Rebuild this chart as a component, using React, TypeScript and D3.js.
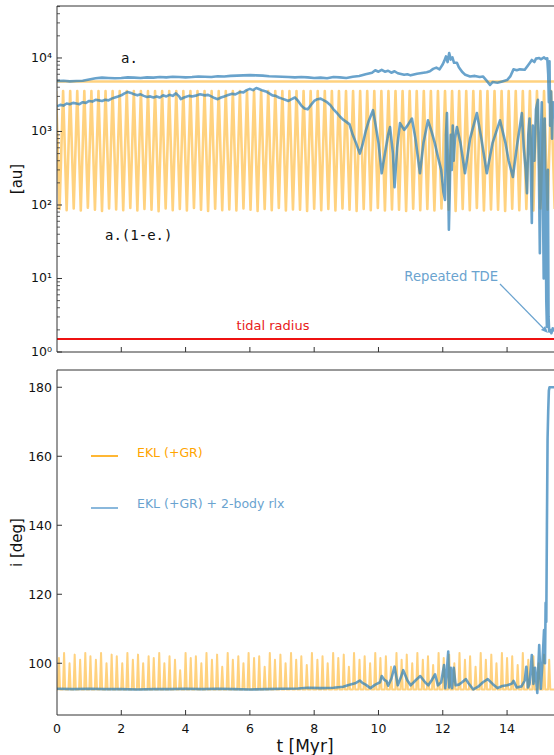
import React from "react";
import * as d3 from "d3";

// ---- data ----------------------------------------------------------------
const T_MAX = 15.46;
const A_EKL = 4780; // semi-major axis, EKL (+GR) run
const PERI_PEAK = 3550; // a(1-e) maxima, EKL (+GR) run
const R_TIDAL = 1.5;

// times (Myr) of pericentre minima, EKL (+GR)
const eklTroughT = [
  0.08, 0.3, 0.52, 0.74, 0.96, 1.18, 1.4, 1.62, 1.84, 2.06, 2.28, 2.5, 2.72, 2.94, 3.16, 3.38, 3.6, 3.82,
  4.04, 4.26, 4.48, 4.7, 4.92, 5.14, 5.36, 5.58, 5.8, 6.02, 6.24, 6.46, 6.68, 6.9, 7.12, 7.34, 7.56, 7.78,
  8.0, 8.22, 8.44, 8.66, 8.88, 9.1, 9.32, 9.54, 9.76, 9.98, 10.2, 10.42, 10.64, 10.86, 11.08, 11.3, 11.52,
  11.74, 11.96, 12.18, 12.4, 12.62, 12.84, 13.06, 13.28, 13.5, 13.72, 13.94, 14.16, 14.38, 14.6, 14.82,
  15.04, 15.26,
];
// a(1-e) at each minimum (au)
const eklTroughV = [
  88, 85, 90, 84, 92, 86, 83, 90, 87, 85, 91, 84, 88, 86, 82, 90, 85, 88, 84, 91, 86, 83, 89, 85, 87, 84, 90,
  86, 83, 88, 85, 91, 84, 87, 86, 83, 89, 85, 88, 84, 90, 86, 83, 88, 85, 91, 84, 87, 86, 83, 89, 85, 88, 84,
  90, 86, 83, 88, 85, 91, 84, 87, 86, 83, 89, 85, 88, 84, 90, 86,
];

// inclination spikes, EKL (+GR)
const eklSpikeT = [
  0.06, 0.22, 0.39, 0.55, 0.72, 0.88, 1.04, 1.21, 1.37, 1.54, 1.7, 1.86, 2.03, 2.19, 2.36, 2.52, 2.68, 2.85,
  3.01, 3.18, 3.34, 3.5, 3.67, 3.83, 4.0, 4.16, 4.32, 4.49, 4.65, 4.82, 4.98, 5.14, 5.31, 5.47, 5.64, 5.8,
  5.96, 6.13, 6.29, 6.46, 6.62, 6.78, 6.95, 7.11, 7.28, 7.44, 7.6, 7.77, 7.93, 8.1, 8.26, 8.42, 8.59, 8.75,
  8.92, 9.08, 9.24, 9.41, 9.57, 9.74, 9.9, 10.06, 10.23, 10.39, 10.56, 10.72, 10.88, 11.05, 11.21, 11.38,
  11.54, 11.7, 11.87, 12.03, 12.2, 12.36, 12.52, 12.69, 12.85, 13.02, 13.18, 13.34, 13.51, 13.67, 13.84, 14.0,
  14.16, 14.33, 14.49, 14.66, 14.82, 14.98, 15.15, 15.31,
];
const eklSpikeI = [
  101.5, 103, 100, 102.5, 101, 103, 102, 101, 103, 100, 102.5, 102, 100, 103, 101, 102.5, 100, 102, 101.5, 103,
  100, 102, 101, 98, 103, 101.5, 102, 100, 103, 101, 102.5, 99, 103, 101, 102, 100, 103, 101.5, 102, 99, 103,
  101, 102.5, 100, 103, 101, 102, 99.5, 103, 101, 102, 100, 103, 101.5, 102.5, 99, 103, 101, 102, 100, 103,
  101.5, 102, 99, 103, 101, 102.5, 100, 103, 101, 102, 99.5, 103, 101.5, 102.5, 100, 103, 101, 102, 99, 103,
  101, 102.5, 100, 103, 101.5, 102, 99.5, 103, 101, 102, 100, 102.5, 101,
];
const EKL_I_BASE = 92.4;

// EKL (+GR) + 2-body relaxation: semi-major axis [t, au]
const rlxA: [number, number][] = [
  [0, 4850], [0.2, 4900], [0.4, 4800], [0.6, 4850], [0.8, 4900], [1.0, 5100], [1.2, 5300], [1.4, 5400],
  [1.6, 5350], [1.8, 5300], [2.0, 5350], [2.2, 5450], [2.4, 5400], [2.6, 5350], [2.8, 5450], [3.0, 5400],
  [3.2, 5500], [3.4, 5450], [3.6, 5550], [3.8, 5500], [4.0, 5450], [4.2, 5500], [4.4, 5600], [4.6, 5550],
  [4.8, 5500], [5.0, 5650], [5.2, 5600], [5.4, 5700], [5.6, 5750], [5.8, 5800], [6.0, 5850], [6.2, 5800],
  [6.4, 5750], [6.6, 5650], [6.8, 5600], [7.0, 5550], [7.2, 5500], [7.4, 5450], [7.6, 5500], [7.8, 5450],
  [8.0, 5350], [8.2, 5400], [8.4, 5300], [8.6, 5500], [8.8, 5450], [9.0, 5350], [9.2, 5550], [9.4, 5700],
  [9.6, 6000], [9.8, 6300], [9.9, 6800], [10.0, 6500], [10.1, 6900], [10.2, 6500], [10.3, 6700],
  [10.4, 6300], [10.5, 6600], [10.6, 6200], [10.8, 5900], [10.9, 6000], [11.0, 5800], [11.2, 6100],
  [11.4, 6300], [11.5, 6400], [11.6, 6600], [11.7, 7100], [11.8, 7400], [11.9, 7000], [12.0, 8200],
  [12.05, 9200], [12.1, 10500], [12.15, 8800], [12.2, 11700], [12.25, 9500], [12.3, 10200], [12.35, 8600],
  [12.44, 8600], [12.5, 7500], [12.6, 6500], [12.7, 5900], [12.85, 5600], [13.0, 5700], [13.15, 5500],
  [13.25, 5600], [13.35, 5000], [13.47, 4300], [13.55, 4700], [13.7, 4600], [13.85, 4800], [14.0, 5000],
  [14.1, 5600], [14.2, 7000], [14.3, 6800], [14.4, 7000], [14.55, 6900], [14.62, 7600], [14.7, 8500],
  [14.77, 9400], [14.85, 8800], [14.9, 9800], [15.0, 10000], [15.05, 9600], [15.1, 9900], [15.15, 10200],
  [15.2, 9700], [15.25, 9900], [15.28, 6000], [15.3, 2500], [15.32, 9000], [15.34, 1200], [15.37, 3500],
  [15.4, 800], [15.43, 2500], [15.46, 1500],
];

// EKL (+GR) + 2-body relaxation: pericentre a(1-e) [t, au]
const rlxPeri: [number, number][] = [
  [0, 2200], [0.1, 2300], [0.2, 2250], [0.3, 2400], [0.4, 2350], [0.5, 2450], [0.6, 2400], [0.7, 2350],
  [0.8, 2500], [0.9, 2450], [1.0, 2600], [1.1, 2550], [1.2, 2700], [1.3, 2650], [1.4, 2600], [1.5, 2700],
  [1.6, 2650], [1.7, 2800], [1.8, 2900], [1.9, 3000], [2.0, 3100], [2.1, 3300], [2.2, 3450], [2.3, 3350],
  [2.4, 3200], [2.5, 3100], [2.6, 3200], [2.7, 3050], [2.8, 2950], [2.9, 3000], [3.0, 2900], [3.1, 3000],
  [3.2, 2900], [3.3, 3100], [3.4, 3000], [3.5, 3150], [3.6, 3050], [3.7, 3300], [3.8, 3000], [3.85, 2750],
  [3.95, 2900], [4.1, 3050], [4.2, 3000], [4.35, 3100], [4.45, 3200], [4.6, 3100], [4.7, 3150], [4.8, 3000],
  [4.9, 2850], [5.0, 2750], [5.1, 2900], [5.2, 3000], [5.3, 3100], [5.45, 3250], [5.55, 3200], [5.7, 3450],
  [5.8, 3400], [5.9, 3650], [6.0, 3800], [6.1, 3650], [6.2, 3900], [6.3, 3750], [6.4, 3600], [6.5, 3500],
  [6.6, 3300], [6.7, 3100], [6.8, 3050], [6.9, 2900], [7.0, 2800], [7.1, 2700], [7.2, 2600], [7.3, 2750],
  [7.4, 2900], [7.5, 2600], [7.6, 2250], [7.7, 2050], [7.8, 2000], [7.9, 2300], [8.0, 2600], [8.1, 2750],
  [8.2, 2800], [8.3, 2650], [8.4, 2500], [8.5, 2300], [8.6, 2000], [8.7, 1800], [8.8, 1600], [8.9, 1450],
  [9.0, 1350], [9.1, 1250], [9.2, 900], [9.3, 700], [9.42, 500], [9.5, 650], [9.6, 1000], [9.7, 1400],
  [9.83, 1950], [9.9, 1300], [10.0, 700], [10.1, 270], [10.2, 500], [10.3, 900], [10.36, 1150], [10.45, 500],
  [10.5, 175], [10.58, 600], [10.67, 1300], [10.8, 1050], [10.9, 1200], [11.04, 1500], [11.15, 800],
  [11.29, 270], [11.4, 700], [11.54, 1420], [11.65, 1000], [11.75, 700], [11.85, 450], [11.95, 300],
  [12.02, 150], [12.07, 117], [12.1, 900], [12.13, 1780], [12.16, 400], [12.19, 46], [12.22, 175],
  [12.25, 900], [12.28, 300], [12.31, 1200], [12.34, 400], [12.38, 800], [12.44, 1150], [12.55, 700],
  [12.69, 270], [12.85, 800], [13.06, 1780], [13.2, 800], [13.37, 270], [13.55, 700], [13.78, 1420],
  [13.95, 700], [14.05, 400], [14.18, 240], [14.3, 600], [14.46, 1780], [14.52, 600], [14.58, 300],
  [14.62, 145], [14.66, 900], [14.7, 1500], [14.74, 300], [14.77, 57], [14.8, 1200], [14.85, 400],
  [14.9, 2000], [14.96, 2700], [14.99, 300], [15.02, 22], [15.05, 800], [15.08, 2500], [15.11, 200],
  [15.14, 10], [15.17, 1500], [15.2, 100], [15.22, 5], [15.24, 2.2], [15.27, 300], [15.29, 3], [15.31, 1.9],
  [15.34, 2.0], [15.38, 1.8], [15.42, 2.1], [15.46, 1.9],
];

// EKL (+GR) + 2-body relaxation: inclination [t, deg]
const rlxInc: [number, number][] = [
  [0, 92.6], [0.5, 92.5], [1, 92.6], [1.5, 92.5], [2, 92.5], [2.5, 92.4], [3, 92.5], [3.5, 92.5], [4, 92.6],
  [4.5, 92.5], [5, 92.6], [5.5, 92.5], [6, 92.4], [6.5, 92.5], [7, 92.6], [7.5, 92.7], [7.8, 92.9],
  [8.2, 92.8], [8.6, 92.9], [8.9, 93.2], [9.1, 93.8], [9.3, 94.3], [9.42, 95.0], [9.5, 94.3], [9.6, 93.8],
  [9.75, 92.8], [9.9, 93.8], [10.05, 94.5], [10.1, 96.3], [10.18, 95.2], [10.25, 94.8], [10.3, 93.5],
  [10.4, 95.5], [10.5, 99.0], [10.6, 93.6], [10.7, 96], [10.77, 98.0], [10.9, 95], [11.0, 93.6],
  [11.15, 95], [11.3, 96.3], [11.45, 94.5], [11.55, 93.6], [11.65, 95], [11.76, 96.8], [11.85, 93.6],
  [11.95, 94.5], [12.04, 99.5], [12.08, 92.8], [12.12, 97], [12.17, 103.4], [12.2, 93], [12.25, 98.7],
  [12.29, 92.8], [12.34, 98.7], [12.4, 93.6], [12.5, 93.8], [12.6, 94.5], [12.72, 95.4], [12.8, 94.2],
  [12.95, 92.4], [13.1, 93.2], [13.25, 94.5], [13.4, 95.4], [13.55, 94], [13.7, 92.8], [13.85, 93.4],
  [14.0, 93.6], [14.15, 94.1], [14.2, 94.9], [14.3, 93], [14.45, 93.3], [14.55, 95], [14.6, 99], [14.65, 93],
  [14.7, 94], [14.77, 102.4], [14.82, 94], [14.87, 98.7], [14.94, 91.4], [15.0, 105.3], [15.05, 92.6],
  [15.1, 100], [15.15, 109.6], [15.18, 100], [15.2, 117.5], [15.22, 112], [15.24, 140], [15.26, 165],
  [15.28, 173], [15.3, 179], [15.32, 180], [15.46, 180],
];

const xTicks = [0, 2, 4, 6, 8, 10, 12, 14];
const iTicks = [100, 120, 140, 160, 180];
const auTicks = [1, 10, 100, 1000, 10000];

// ---- layout ----------------------------------------------------------------
const W = 554;
const H = 755;
const L = 57;
const R = 554;
const TOP1 = 6;
const BOT1 = 352;
const TOP2 = 370;
const BOT2 = 715;

const ORANGE = "#FFA500";
const BLUE = "#2f7fb8";
const BLUE_TXT = "#6aa3cf";
const BLUE_LEG = "#7db0d8";
const AXIS = "#333333";
const FONT = "DejaVu Sans, sans-serif";

export default function App() {
  const x = d3.scaleLinear().domain([0, T_MAX]).range([L, R]);
  const yAu = d3.scaleLog().domain([1, Math.pow(10, 4.707)]).range([BOT1, TOP1]);
  const yI = d3.scaleLinear().domain([85, 185]).range([BOT2, TOP2]);

  // EKL pericentre: alternating maxima and minima
  const n = Math.min(eklTroughT.length, eklTroughV.length);
  const eklPeri: [number, number][] = [];
  for (let k = 0; k < n; k++) {
    const prev = k === 0 ? eklTroughT[0] - (eklTroughT[1] - eklTroughT[0]) : eklTroughT[k - 1];
    eklPeri.push([(prev + eklTroughT[k]) / 2, PERI_PEAK]);
    eklPeri.push([eklTroughT[k], eklTroughV[k]]);
  }
  eklPeri.push([eklTroughT[n - 1] + (eklTroughT[n - 1] - eklTroughT[n - 2]) / 2, PERI_PEAK]);
  eklPeri.push([eklTroughT[n - 1] + (eklTroughT[n - 1] - eklTroughT[n - 2]), eklTroughV[0]]);

  // EKL inclination: narrow spikes on a flat base
  const m = Math.min(eklSpikeT.length, eklSpikeI.length);
  const eklInc: [number, number][] = [[0, EKL_I_BASE]];
  for (let k = 0; k < m; k++) {
    eklInc.push([eklSpikeT[k] - 0.035, EKL_I_BASE]);
    eklInc.push([eklSpikeT[k], eklSpikeI[k]]);
    eklInc.push([eklSpikeT[k] + 0.035, EKL_I_BASE]);
  }
  eklInc.push([T_MAX + 0.1, EKL_I_BASE]);

  const lineAu = d3.line<[number, number]>().x((d) => x(d[0])).y((d) => yAu(d[1]));
  const lineI = d3.line<[number, number]>().x((d) => x(d[0])).y((d) => yI(d[1]));

  const minorAu: number[] = [];
  for (let e = 0; e <= 4; e++) for (let k = 2; k <= 9; k++) {
    const v = k * Math.pow(10, e);
    if (yAu(v) >= TOP1) minorAu.push(v);
  }

  const sup = ["⁰", "¹", "²", "³", "⁴"];

  const arrowEnd = [548, 333];
  const arrowStart = [500, 284];
  const ang = Math.atan2(arrowEnd[1] - arrowStart[1], arrowEnd[0] - arrowStart[0]);
  const ah = 7, aw = 3;
  const hx = arrowEnd[0] - ah * Math.cos(ang);
  const hy = arrowEnd[1] - ah * Math.sin(ang);
  const headPts = [
    [arrowEnd[0], arrowEnd[1]],
    [hx + aw * Math.sin(ang), hy - aw * Math.cos(ang)],
    [hx - aw * Math.sin(ang), hy + aw * Math.cos(ang)],
  ].map((p) => p.join(",")).join(" ");

  return (
    <svg
      width={W}
      height={H}
      style={{ position: "absolute", left: 0, top: 0, background: "#fff" }}
      fontFamily={FONT}
    >
      <defs>
        <clipPath id="clipTop">
          <rect x={L} y={TOP1} width={R - L} height={BOT1 - TOP1} />
        </clipPath>
        <clipPath id="clipBot">
          <rect x={L} y={TOP2} width={R - L} height={BOT2 - TOP2} />
        </clipPath>
      </defs>

      {/* ---------- upper panel: a and a(1-e) ---------- */}
      <g clipPath="url(#clipTop)">
        <path d={lineAu(eklPeri) ?? ""} fill="none" stroke={ORANGE} strokeOpacity={0.5} strokeWidth={2.6} strokeLinejoin="round" />
        <line x1={L} x2={R} y1={yAu(A_EKL)} y2={yAu(A_EKL)} stroke={ORANGE} strokeOpacity={0.5} strokeWidth={2.6} />
        <path d={lineAu(rlxA) ?? ""} fill="none" stroke={BLUE} strokeOpacity={0.72} strokeWidth={2.6} strokeLinejoin="round" />
        <path d={lineAu(rlxPeri) ?? ""} fill="none" stroke={BLUE} strokeOpacity={0.72} strokeWidth={2.6} strokeLinejoin="round" />
        <line x1={L} x2={R} y1={yAu(R_TIDAL)} y2={yAu(R_TIDAL)} stroke="#ee1111" strokeWidth={2} />
      </g>
      <text x={121} y={63} fontFamily="DejaVu Sans Mono, monospace" fontSize={14} fill="#111">a.</text>
      <text x={105} y={240} fontFamily="DejaVu Sans Mono, monospace" fontSize={14} fill="#111">a.(1-e.)</text>
      <text x={273} y={330} fontSize={13} fill="#e8201a" textAnchor="middle">tidal radius</text>
      <text x={498} y={281} fontSize={13.2} fill={BLUE_TXT} textAnchor="end">Repeated TDE</text>
      <line x1={arrowStart[0]} y1={arrowStart[1]} x2={hx} y2={hy} stroke={BLUE_TXT} strokeWidth={1.2} />
      <polygon points={headPts} fill={BLUE_TXT} />

      {/* upper axes */}
      <line x1={L} x2={R} y1={TOP1} y2={TOP1} stroke={AXIS} strokeWidth={1} />
      <line x1={L} x2={R} y1={BOT1} y2={BOT1} stroke={AXIS} strokeWidth={1} />
      <line x1={L} x2={L} y1={TOP1} y2={BOT1} stroke={AXIS} strokeWidth={1} />
      {xTicks.filter((t) => t > 0).map((t) => (
        <line key={`xt1${t}`} x1={x(t)} x2={x(t)} y1={BOT1} y2={BOT1 - 5} stroke={AXIS} />
      ))}
      {auTicks.map((v, i) => (
        <g key={`au${v}`}>
          <line x1={L} x2={L + 5} y1={yAu(v)} y2={yAu(v)} stroke={AXIS} />
          <text x={52} y={yAu(v) + 4} fontSize={12.5} fill="#111" textAnchor="end">
            10{sup[i]}
          </text>
        </g>
      ))}
      {minorAu.map((v) => (
        <line key={`mau${v}`} x1={L} x2={L + 3} y1={yAu(v)} y2={yAu(v)} stroke={AXIS} strokeWidth={0.8} />
      ))}
      <text transform={`translate(22,${(TOP1 + BOT1) / 2}) rotate(-90)`} fontSize={15} textAnchor="middle" fill="#111">
        [au]
      </text>

      {/* ---------- lower panel: inclination ---------- */}
      <g clipPath="url(#clipBot)">
        <path d={lineI(eklInc) ?? ""} fill="none" stroke={ORANGE} strokeOpacity={0.5} strokeWidth={2} strokeLinejoin="round" />
        <path d={lineI(rlxInc) ?? ""} fill="none" stroke={BLUE} strokeOpacity={0.72} strokeWidth={2.6} strokeLinejoin="round" />
      </g>

      {/* legend */}
      <line x1={91} x2={118} y1={456} y2={456} stroke={ORANGE} strokeWidth={1.6} />
      <text x={137} y={456.5} fontSize={12.5} fill={ORANGE}>EKL (+GR)</text>
      <line x1={91} x2={118} y1={508} y2={508} stroke={BLUE_LEG} strokeWidth={1.8} />
      <text x={137} y={507.5} fontSize={12.5} fill={BLUE_TXT}>EKL (+GR) + 2-body rlx</text>

      {/* lower axes */}
      <line x1={L} x2={R} y1={TOP2} y2={TOP2} stroke={AXIS} strokeWidth={1} />
      <line x1={L} x2={R} y1={BOT2} y2={BOT2} stroke={AXIS} strokeWidth={1} />
      <line x1={L} x2={L} y1={TOP2} y2={BOT2} stroke={AXIS} strokeWidth={1} />
      {xTicks.map((t) => (
        <g key={`xt2${t}`}>
          {t > 0 && <line x1={x(t)} x2={x(t)} y1={BOT2} y2={BOT2 - 5} stroke={AXIS} />}
          <text x={x(t)} y={733} fontSize={12.5} fill="#111" textAnchor="middle">{t}</text>
        </g>
      ))}
      {iTicks.map((v) => (
        <g key={`it${v}`}>
          <line x1={L} x2={L + 5} y1={yI(v)} y2={yI(v)} stroke={AXIS} />
          <text x={52} y={yI(v) + 4.5} fontSize={12.5} fill="#111" textAnchor="end">{v}</text>
        </g>
      ))}
      <text transform={`translate(22,${(TOP2 + BOT2) / 2}) rotate(-90)`} fontSize={15} textAnchor="middle" fill="#111">
        i [deg]
      </text>
      <text x={305} y={752} fontSize={17} textAnchor="middle" fill="#111">t [Myr]</text>
    </svg>
  );
}
